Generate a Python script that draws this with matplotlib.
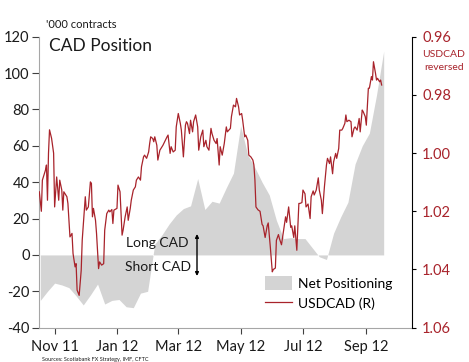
import matplotlib
matplotlib.use("Agg")
import matplotlib.pyplot as plt
import matplotlib.dates as mdates
import pandas as pd

plt.rcParams['font.family'] = ['Lato', 'DejaVu Sans']
plt.rcParams['axes.unicode_minus'] = False

# Weekly CFTC net positioning ('000 contracts), Tuesdays from 2011-10-18
net_start = "2011-10-18"
net_values = [-25, -20, -15.5, -16.5, -18, -22.5, -27.5, -22, -16, -27,
              -25, -24.5, -28.5, -29, -21, -20, 6, 11, 17, 22,
              25.5, 27, 42, 25, 29.5, 28.5, 37, 45, 71, 55,
              48, 40, 33, 19, 9, 9.5, 9, 9, 4, -1,
              -2.5, 12, 21, 29, 50, 60, 67, 88, 112]

usdcad_dates = [
    "2011-10-17", "2011-10-19", "2011-10-20", "2011-10-23", "2011-10-24", "2011-10-25",
    "2011-10-26", "2011-10-27", "2011-10-29", "2011-10-31", "2011-11-01", "2011-11-03",
    "2011-11-05", "2011-11-06", "2011-11-08", "2011-11-09", "2011-11-10", "2011-11-13",
    "2011-11-14", "2011-11-16", "2011-11-18", "2011-11-19", "2011-11-21", "2011-11-22",
    "2011-11-23", "2011-11-25", "2011-11-27", "2011-11-28", "2011-11-30", "2011-12-01",
    "2011-12-02", "2011-12-04", "2011-12-06", "2011-12-07", "2011-12-08", "2011-12-09",
    "2011-12-11", "2011-12-12", "2011-12-14", "2011-12-15", "2011-12-17", "2011-12-19",
    "2011-12-20", "2011-12-22", "2011-12-24", "2011-12-25", "2011-12-27", "2011-12-28",
    "2011-12-29", "2012-01-01", "2012-01-02", "2012-01-04", "2012-01-06", "2012-01-07",
    "2012-01-09", "2012-01-11", "2012-01-12", "2012-01-14", "2012-01-15", "2012-01-17",
    "2012-01-19", "2012-01-20", "2012-01-22", "2012-01-24", "2012-01-25", "2012-01-27",
    "2012-01-28", "2012-01-30", "2012-02-01", "2012-02-02", "2012-02-03", "2012-02-05",
    "2012-02-06", "2012-02-07", "2012-02-09", "2012-02-10", "2012-02-12", "2012-02-15",
    "2012-02-19", "2012-02-20", "2012-02-22", "2012-02-23", "2012-02-25", "2012-02-27",
    "2012-02-28", "2012-03-01", "2012-03-03", "2012-03-04", "2012-03-06", "2012-03-08",
    "2012-03-09", "2012-03-10", "2012-03-12", "2012-03-13", "2012-03-15", "2012-03-16",
    "2012-03-18", "2012-03-20", "2012-03-21", "2012-03-23", "2012-03-25", "2012-03-26",
    "2012-03-28", "2012-03-29", "2012-03-31", "2012-04-02", "2012-04-03", "2012-04-05",
    "2012-04-07", "2012-04-08", "2012-04-10", "2012-04-11", "2012-04-13", "2012-04-15",
    "2012-04-17", "2012-04-18", "2012-04-21", "2012-04-22", "2012-04-24", "2012-04-26",
    "2012-04-27", "2012-04-29", "2012-04-30", "2012-05-02", "2012-05-03", "2012-05-05",
    "2012-05-06", "2012-05-08", "2012-05-09", "2012-05-11", "2012-05-13", "2012-05-14",
    "2012-05-15", "2012-05-16", "2012-05-18", "2012-05-20", "2012-05-22", "2012-05-23",
    "2012-05-25", "2012-05-27", "2012-05-28", "2012-05-30", "2012-06-01", "2012-06-02",
    "2012-06-04", "2012-06-05", "2012-06-07", "2012-06-08", "2012-06-10", "2012-06-12",
    "2012-06-14", "2012-06-15", "2012-06-17", "2012-06-19", "2012-06-20", "2012-06-22",
    "2012-06-23", "2012-06-25", "2012-06-27", "2012-06-28", "2012-06-30", "2012-07-01",
    "2012-07-03", "2012-07-04", "2012-07-06", "2012-07-08", "2012-07-09", "2012-07-11",
    "2012-07-12", "2012-07-14", "2012-07-16", "2012-07-17", "2012-07-19", "2012-07-20",
    "2012-07-22", "2012-07-24", "2012-07-25", "2012-07-27", "2012-07-28", "2012-07-30",
    "2012-07-31", "2012-08-02", "2012-08-03", "2012-08-05", "2012-08-06", "2012-08-08",
    "2012-08-09", "2012-08-11", "2012-08-12", "2012-08-13", "2012-08-15", "2012-08-17",
    "2012-08-18", "2012-08-20", "2012-08-21", "2012-08-23", "2012-08-25", "2012-08-26",
    "2012-08-28", "2012-08-29", "2012-08-31", "2012-09-01", "2012-09-03", "2012-09-04",
    "2012-09-06", "2012-09-07", "2012-09-08", "2012-09-10", "2012-09-11", "2012-09-12",
    "2012-09-14", "2012-09-15", "2012-09-16",
]
usdcad_values = [
    1.0133, 1.0200, 1.0093, 1.0059, 1.0041, 1.0162,
    1.0000, 0.9920, 0.9949, 1.0000, 1.0185, 1.0082,
    1.0162, 1.0093, 1.0127, 1.0196, 1.0133, 1.0150,
    1.0173, 1.0288, 1.0276, 1.0345, 1.0391, 1.0380,
    1.0471, 1.0489, 1.0403, 1.0299, 1.0196, 1.0150,
    1.0196, 1.0185, 1.0099, 1.0104, 1.0219, 1.0190,
    1.0231, 1.0276, 1.0397, 1.0374, 1.0385, 1.0380,
    1.0265, 1.0208, 1.0196, 1.0202, 1.0194, 1.0242,
    1.0196, 1.0190, 1.0110, 1.0133, 1.0282, 1.0265,
    1.0219, 1.0185, 1.0231, 1.0190, 1.0162, 1.0127,
    1.0116, 1.0093, 1.0082, 1.0093, 1.0047, 1.0013,
    1.0007, 1.0018, 0.9996, 0.9967, 0.9944, 0.9950,
    0.9961, 0.9944, 0.9973, 1.0024, 0.9990, 0.9973,
    0.9944, 0.9938, 1.0001, 0.9978, 0.9996, 0.9990,
    0.9910, 0.9864, 0.9898, 0.9921, 1.0013, 0.9904,
    0.9892, 0.9898, 0.9933, 0.9887, 0.9927, 0.9892,
    0.9869, 0.9910, 0.9990, 0.9944, 0.9921, 0.9978,
    0.9956, 0.9978, 0.9990, 0.9915, 0.9933, 0.9956,
    0.9967, 0.9950, 1.0041, 0.9978, 1.0007, 0.9967,
    0.9910, 0.9927, 0.9915, 0.9875, 0.9835, 0.9841,
    0.9812, 0.9841, 0.9869, 0.9864, 0.9887, 0.9944,
    0.9938, 0.9956, 1.0007, 1.0013, 1.0024, 1.0041,
    1.0093, 1.0185, 1.0195, 1.0200, 1.0245, 1.0250,
    1.0290, 1.0250, 1.0240, 1.0320, 1.0408, 1.0400,
    1.0395, 1.0300, 1.0280, 1.0294, 1.0315, 1.0268,
    1.0219, 1.0238, 1.0185, 1.0255, 1.0250, 1.0290,
    1.0250, 1.0334, 1.0173, 1.0173, 1.0170, 1.0127,
    1.0140, 1.0185, 1.0175, 1.0225, 1.0150, 1.0130,
    1.0144, 1.0127, 1.0085, 1.0127, 1.0162, 1.0208,
    1.0116, 1.0041, 1.0018, 1.0036, 1.0013, 1.0071,
    1.0030, 1.0001, 1.0018, 0.9984, 0.9921, 0.9921,
    0.9915, 0.9898, 0.9869, 0.9892, 0.9887, 0.9892,
    0.9944, 0.9915, 0.9910, 0.9921, 0.9881, 0.9927,
    0.9852, 0.9858, 0.9875, 0.9904, 0.9777, 0.9777,
    0.9737, 0.9749, 0.9686, 0.9726, 0.9749, 0.9743,
    0.9755, 0.9749, 0.9766,
]

left_ticks = [-40, -20, 0, 20, 40, 60, 80, 100, 120]
right_ticks = [0.96, 0.98, 1.00, 1.02, 1.04, 1.06]

RED = '#A8232B'
GRAY_FILL = '#D4D4D4'

net_dates = pd.date_range(net_start, periods=len(net_values), freq='7D')
fx_dates = pd.to_datetime(usdcad_dates)

fig = plt.figure(figsize=(4.69, 3.62), dpi=100)
ax = fig.add_axes([0.0838, 0.0948, 0.7953, 0.8038])
ax2 = ax.twinx()

ax.fill_between(net_dates, net_values, 0, color=GRAY_FILL, linewidth=0,
                label='Net Positioning')
ax2.plot(fx_dates, usdcad_values, color=RED, linewidth=0.9, label='USDCAD (R)')

ax.set_xlim(pd.Timestamp('2011-10-17'), pd.Timestamp('2012-10-16'))
ax.set_ylim(-40, 120)
ax.set_yticks(left_ticks)
ax2.set_ylim(1.06, 0.96)
ax2.set_yticks(right_ticks)
ax2.set_yticklabels([f"{v:.2f}" for v in right_ticks])

ax.xaxis.set_major_locator(mdates.MonthLocator(bymonth=[1, 3, 5, 7, 9, 11]))
ax.xaxis.set_major_formatter(mdates.DateFormatter('%b %y'))

for s in ['top', 'right']:
    ax.spines[s].set_visible(False)
for s in ['top', 'left', 'bottom']:
    ax2.spines[s].set_visible(False)
ax.spines['left'].set_color('#A6A6A6')
ax.spines['bottom'].set_color('#A6A6A6')
ax2.spines['right'].set_color('black')

ax.tick_params(axis='y', direction='out', length=5, pad=2, labelsize=10.5,
               color='#404040', labelcolor='#1a1a1a')
ax.tick_params(axis='x', direction='out', length=4, pad=5, labelsize=10.5,
               color='#404040', labelcolor='#1a1a1a')
ax2.tick_params(axis='y', direction='out', length=3, pad=4, labelsize=10.5,
                color='black', labelcolor=RED)

fig.text(46 / 469, 1 - 24 / 362, "'000 contracts", fontsize=8,
         ha='left', va='center', color='#1a1a1a')
fig.text(49 / 469, 1 - 46 / 362, "CAD Position", fontsize=12.5,
         ha='left', va='center', color='#1a1a1a')
fig.text(444 / 469, 1 - 61 / 362, "USDCAD\nreversed", fontsize=7.5,
         ha='center', va='center', color=RED, linespacing=1.5)

fig.text(126 / 469, 1 - 243 / 362, "Long CAD",
         fontsize=10, ha='left', va='center', color='#1a1a1a')
fig.text(125 / 469, 1 - 267 / 362, "Short CAD",
         fontsize=10, ha='left', va='center', color='#1a1a1a')
ax.annotate('', xy=(197 / 469, 1 - 234 / 362), xytext=(197 / 469, 1 - 276 / 362),
            xycoords='figure fraction', textcoords='figure fraction',
            arrowprops=dict(arrowstyle='<|-|>', color='black', lw=1.0,
                            mutation_scale=5, shrinkA=0, shrinkB=0))

fig.text(42 / 469, 0.0, "Sources: Scotiabank FX Strategy, IMF, CFTC",
         fontsize=4, ha='left', va='bottom', color='#1a1a1a')

h1, l1 = ax.get_legend_handles_labels()
h2, l2 = ax2.get_legend_handles_labels()
ax2.legend(h1 + h2, l1 + l2, loc='upper left',
           bbox_to_anchor=(0.606, 0.176), frameon=False, fontsize=10,
           handlelength=1.9, handleheight=1.1, handletextpad=0.45,
           labelspacing=0.5, borderaxespad=0, borderpad=0)

fig.savefig('out.png', dpi=100)
